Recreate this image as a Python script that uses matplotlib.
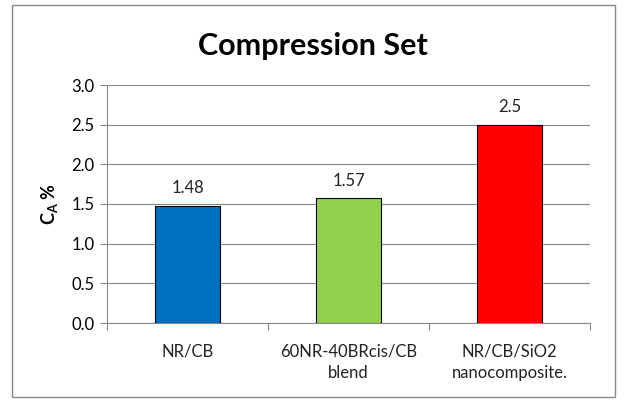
import matplotlib.pyplot as plt
from matplotlib.patches import Rectangle

# data
categories = ["NR/CB", "60NR-40BRcis/CB\nblend", "NR/CB/SiO2\nnanocomposite."]
values = [1.48, 1.57, 2.5]
value_labels = ["1.48", "1.57", "2.5"]
colors = ["#0070C0", "#92D050", "#FF0000"]
yticks = [0.0, 0.5, 1.0, 1.5, 2.0, 2.5, 3.0]

plt.rcParams["font.family"] = ["Lato", "DejaVu Sans"]

fig = plt.figure(figsize=(6.25, 4), dpi=100)
ax = fig.add_axes([0.1712, 0.1925, 0.7728, 0.595])

# outer chart frame
fig.patches.append(Rectangle((0.019, 0.008), 0.965, 0.98, transform=fig.transFigure,
                             fill=False, edgecolor="#888888", linewidth=1.0))

x = list(range(len(categories)))
ax.bar(x, values, width=0.4, color=colors, edgecolor="black", linewidth=0.8, zorder=3)
for xi, v, lab in zip(x, values, value_labels):
    ax.text(xi, v + 0.12, lab, ha="center", va="bottom", fontsize=12, color="#222222")

ax.set_xlim(-0.5, 2.5)
ax.set_ylim(0, 3.0)
ax.set_yticks(yticks)
ax.set_yticklabels([f"{t:.1f}" for t in yticks], fontsize=12)
ax.yaxis.grid(True, color="#888888", linewidth=0.8, zorder=0)
ax.set_axisbelow(True)

# category labels between boundary ticks
ax.set_xticks([-0.5, 0.5, 1.5, 2.5])
ax.set_xticklabels([])
ax.tick_params(axis="x", length=5, color="#888888")
ax.tick_params(axis="y", length=5, color="#888888", pad=4)
for xi, cat in zip(x, categories):
    ax.text(xi, -0.26, cat, ha="center", va="top", fontsize=12,
            transform=ax.transData, color="#222222", linespacing=1.45)

for s in ["top", "right"]:
    ax.spines[s].set_visible(False)
for s in ["left", "bottom"]:
    ax.spines[s].set_color("#888888")

ax.set_ylabel(r"C$_\mathregular{A}$ %", fontsize=13, fontweight="bold", labelpad=8)

fig.text(0.5, 0.885, "Compression Set", ha="center", va="center",
         fontsize=22, fontweight="bold")

fig.savefig("out.png", dpi=100, facecolor="white")
